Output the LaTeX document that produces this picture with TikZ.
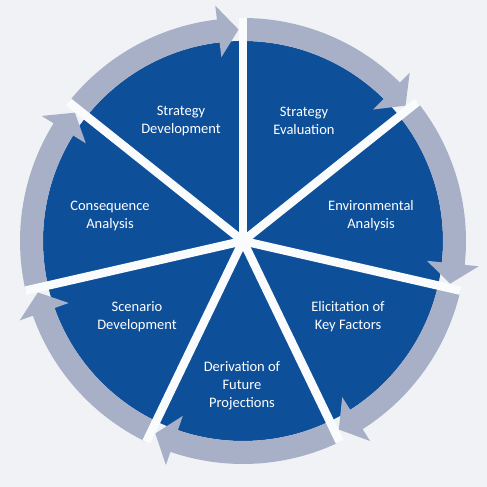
\documentclass[tikz,border=0pt]{standalone}
\usepackage{fontspec}
\setmainfont{Carlito}
\definecolor{bgc}{RGB}{240,242,246}
\definecolor{bluec}{RGB}{14,79,154}
\definecolor{ringc}{RGB}{168,176,199}
\definecolor{gapc}{RGB}{250,251,253}
\tikzset{
  sector/.style={fill=bluec},
  ringarrow/.style={fill=ringc},
  gapline/.style={draw=gapc, line width=8.5pt, line cap=butt},
  lbl/.style={text=white, align=center, font=\fontsize{14.5pt}{18pt}\selectfont, inner sep=0pt}
}
\begin{document}
\begin{tikzpicture}
\useasboundingbox (0,0) rectangle (487pt,487pt);
\fill[bgc] (0,0) rectangle (487pt,487pt);
\coordinate (O) at (243pt,246pt);
\begin{scope}[shift={(O)}]
  \fill[sector] (0,0) circle[radius=200pt];
  \foreach \k in {0,...,6}{
    \pgfmathsetmacro{\da}{90-\k*360/7}
    \pgfmathsetmacro{\tp}{\da-360/7+1.22}
    \pgfmathsetmacro{\bk}{\tp+5.5}
    \fill[ringarrow] (\da:223pt) arc[start angle=\da, end angle=\bk, radius=223pt]
      -- (\bk:237pt) -- (\tp:211.5pt) -- (\bk:185pt) -- (\bk:200pt)
      arc[start angle=\bk, end angle=\da, radius=200pt] -- cycle;
  }
  \foreach \k in {0,...,6}{
    \pgfmathsetmacro{\da}{90-\k*360/7}
    \draw[gapline] (0,0) -- (\da:223pt);
  }
\end{scope}
\node[lbl] (sd) at (181pt,366pt) {Strategy\\Development};
\node[lbl] (se) at (304pt,366pt) {Strategy\\Evaluation};
\node[lbl] (ea) at (371pt,271pt) {Environmental\\Analysis};
\node[lbl] (ca) at (110pt,271pt) {Consequence\\Analysis};
\node[lbl] (ek) at (348pt,170.5pt) {Elicitation of\\Key Factors};
\node[lbl] (sc) at (137pt,170.5pt) {Scenario\\Development};
\node[lbl] (dp) at (242pt,101.5pt) {Derivation of\\Future\\Projections};
\end{tikzpicture}
\end{document}
